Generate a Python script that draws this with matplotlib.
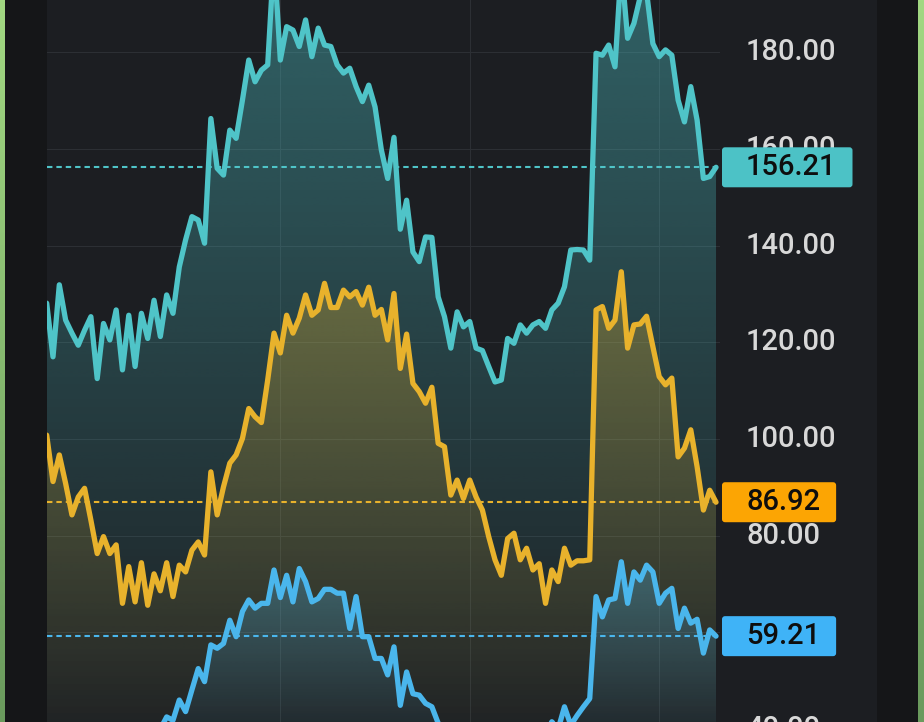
import numpy as np
import matplotlib.pyplot as plt
import matplotlib.transforms as mtransforms
from matplotlib.patches import Polygon, FancyBboxPatch
from matplotlib.colors import to_rgb

plt.rcParams['font.family'] = ['Roboto', 'DejaVu Sans']

W, H, DPI = 924, 722, 100

# values, one per bar of time
teal = [128.1, 117.0, 131.9, 124.6, 121.9, 119.4, 122.5, 125.3, 112.5, 123.9,
        120.5, 126.7, 114.3, 125.6, 115.0, 126.0, 120.8, 128.7, 121.2, 129.8,
        126.0, 135.6, 141.2, 146.0, 145.3, 140.5, 166.3, 156.0, 154.6, 163.9,
        162.2, 170.1, 178.4, 173.9, 176.3, 177.4, 200.0, 178.4, 185.3, 184.6,
        181.2, 186.7, 179.1, 185.0, 181.5, 181.2, 177.4, 175.7, 176.7, 172.9,
        169.8, 173.2, 168.7, 159.8, 153.9, 162.4, 143.4, 149.4, 138.7, 136.7,
        141.8, 141.7, 129.4, 125.3, 118.8, 126.3, 123.2, 124.3, 118.8, 118.3,
        115.0, 111.8, 112.2, 120.8, 119.8, 123.6, 121.9, 123.6, 124.3, 122.9,
        126.7, 128.1, 131.5, 139.1, 139.2, 139.1, 137.0, 179.8, 179.4, 181.5,
        177.0, 198.0, 182.9, 186.0, 191.5, 192.5, 181.8, 179.1, 180.5, 179.4,
        170.1, 165.6, 172.9, 166.0, 153.9, 154.3, 156.21]

gold = [100.8, 91.2, 96.7, 90.8, 84.3, 88.0, 89.8, 83.2, 76.3, 79.8,
        76.3, 78.1, 66.0, 73.6, 66.3, 74.4, 65.6, 72.1, 68.6, 74.4,
        67.4, 73.9, 72.5, 77.0, 78.7, 76.0, 93.2, 84.3, 90.1, 95.0,
        96.7, 100.1, 106.3, 104.6, 103.4, 112.2, 121.9, 117.8, 125.6, 121.9,
        125.0, 129.8, 125.6, 126.7, 132.2, 127.2, 127.2, 130.8, 129.4, 130.5,
        127.7, 131.4, 125.6, 126.8, 120.5, 130.1, 114.6, 121.7, 111.5, 109.8,
        107.4, 110.7, 99.1, 98.4, 88.4, 91.5, 87.7, 91.5, 88.0, 85.3,
        79.8, 75.0, 71.8, 79.4, 80.5, 75.0, 77.4, 72.9, 74.2, 66.0,
        72.9, 70.5, 77.4, 73.9, 74.8, 74.8, 75.0, 126.7, 127.4, 122.9,
        124.6, 134.6, 118.8, 123.6, 123.8, 125.4, 119.1, 112.9, 111.2, 112.6,
        96.3, 98.1, 101.9, 94.3, 85.3, 89.4, 86.92]

blue = [34.0, 31.0, 35.0, 33.0, 30.0, 31.0, 33.0, 32.0, 28.0, 31.0,
        30.0, 33.0, 29.0, 33.0, 30.0, 35.0, 37.0, 41.0, 40.0, 42.5,
        41.8, 46.0, 43.6, 48.1, 52.5, 49.8, 57.4, 56.7, 57.7, 62.5,
        59.1, 64.3, 66.7, 65.0, 66.0, 66.0, 72.9, 67.2, 71.8, 66.3,
        73.2, 70.5, 66.3, 67.0, 68.9, 68.9, 68.1, 68.1, 60.8, 67.4,
        59.1, 59.1, 54.6, 54.6, 51.2, 57.0, 44.9, 51.8, 47.3, 47.0,
        45.3, 44.6, 41.2, 39.0, 37.5, 36.0, 37.0, 35.0, 34.0, 35.5,
        33.5, 32.0, 31.0, 32.5, 31.5, 33.0, 32.5, 35.0, 37.0, 39.0,
        41.5, 40.0, 44.6, 40.8, 42.8, 44.6, 46.3, 67.4, 63.2, 66.7,
        67.0, 74.6, 66.0, 72.5, 70.8, 73.9, 72.5, 66.0, 68.1, 69.1,
        60.8, 65.0, 61.9, 62.7, 55.7, 60.5, 59.21]

line_colors = ['#4fc4c8', '#e8b22c', '#4ab6ec']
tag_colors = ['#4cc2c6', '#fca503', '#3fb3f7']
top_alpha = [0.42, 0.33, 0.32]
price_ticks = [40, 60, 80, 100, 120, 140, 160, 180]
time_grid = [37, 67, 97]

fig = plt.figure(figsize=(W / DPI, H / DPI), dpi=DPI)

# frame: green edges, dark side strips, chart background
bg = fig.add_axes([0, 0, 1, 1])
bg.axis('off')
img = np.zeros((H, W, 3))
img[:] = to_rgb('#1c1e22')
img[:, :47] = to_rgb('#151618')
img[:, 877:] = to_rgb('#151618')
t = np.linspace(0, 1, H)[:, None]
green = np.array(to_rgb('#a2d882')) * (1 - t) + np.array(to_rgb('#6a9a5d')) * t
img[:, :5] = green[:, None, :]
img[:, 918:] = green[:, None, :]
bg.imshow(img, extent=[0, W, 0, H], aspect='auto', interpolation='nearest')
bg.set_xlim(0, W)
bg.set_ylim(0, H)

ax = fig.add_axes([47 / W, 0, (720 - 47) / W, 1])
ax.patch.set_alpha(0)
for s in ax.spines.values():
    s.set_visible(False)
ax.set_xticks([])
ax.set_yticks([])

n = len(teal)
x = np.arange(n)
y_low = 33.6  # bottom of the pane, below the crop

for v in price_ticks:
    ax.axhline(v, color='#2c2f34', lw=0.8, zorder=0)
for g in time_grid:
    ax.axvline(g, color='#2c2f34', lw=0.8, zorder=0)

for k, (vals, col) in enumerate(zip([teal, gold, blue], line_colors)):
    vals = np.asarray(vals)
    z = 1 + k
    grad = np.zeros((256, 1, 4))
    grad[:, :, :3] = to_rgb(col)
    grad[:, 0, 3] = np.linspace(top_alpha[k], 0.0, 256)
    im = ax.imshow(grad, extent=[0, n - 1, y_low, vals.max()], aspect='auto',
                   origin='upper', interpolation='bilinear', zorder=z)
    poly = Polygon(np.column_stack([np.r_[x, x[-1], x[0]],
                                    np.r_[vals, y_low, y_low]]),
                   closed=True, transform=ax.transData)
    im.set_clip_path(poly)
    ax.plot(x, vals, color=col, lw=3.8, zorder=z + 0.5,
            solid_joinstyle='round', solid_capstyle='round')
    ax.axhline(vals[-1], color=col, lw=1.5, ls=(0, (2.6, 1.9)), zorder=10)

ax.set_xlim(0.05, 106.63)
ax.set_ylim(41.45, 190.82)

trans = mtransforms.blended_transform_factory(fig.transFigure, ax.transData)
for v in price_ticks:
    ax.text(746 / W, v, f'{v:.2f}', transform=trans, ha='left', va='center',
            fontsize=21, fontweight='medium', color='#d8d8d8', clip_on=False)

# last value tags on the price scale
fig.canvas.draw()
for vals, col in zip([teal, gold, blue], tag_colors):
    last = vals[-1]
    yc = ax.transData.transform((0, last))[1]
    txt = fig.text(746 / W, yc / H, f'{last:.2f}', ha='left', va='center',
                   fontsize=21, fontweight='medium', color='#0e0e0e', zorder=6)
    fig.canvas.draw()
    bb = txt.get_window_extent()
    box = FancyBboxPatch((722, yc - 20), bb.x1 - 722 + 16, 40,
                         boxstyle='round,pad=0,rounding_size=3',
                         facecolor=col, edgecolor='none',
                         transform=mtransforms.IdentityTransform(), zorder=5)
    fig.patches.append(box)

fig.savefig('out.png', dpi=DPI)
